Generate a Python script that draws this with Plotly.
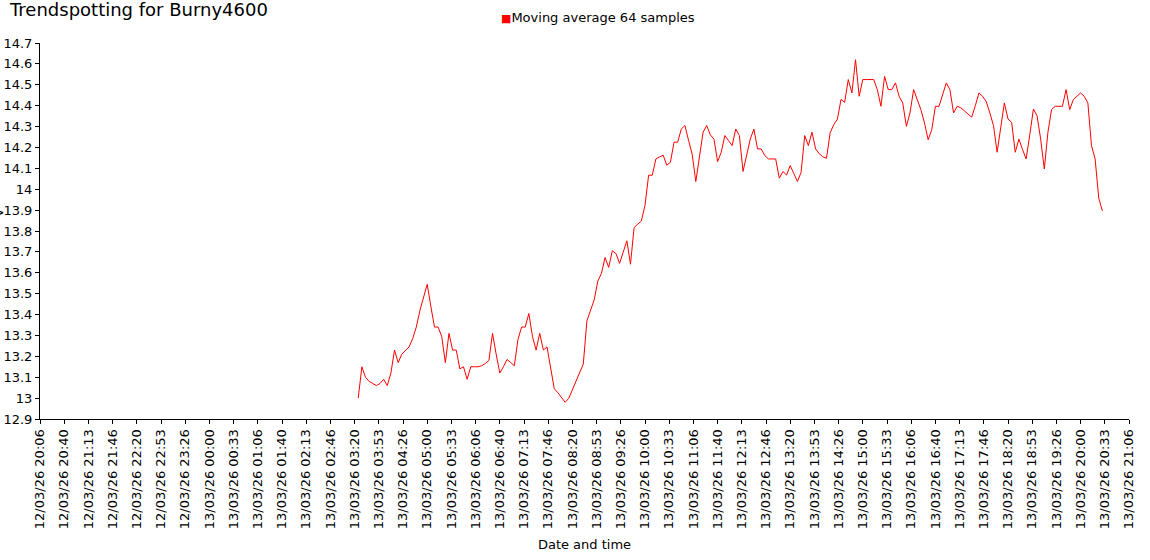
import pandas as pd
import plotly.graph_objects as go

# ---- data ----
title_text = "Trendspotting for Burny4600"
series_name = "Moving average 64 samples"
x_title = "Date and time"
y_title = "V"
start_time = "2026-03-13 03:25:00"
sample_minutes = 5
axis_start = "2026-03-12 20:06:40"
axis_end = "2026-03-13 21:06:40"
tick_step_ms = 2000 * 1000
y_min, y_max, y_step = 12.9, 14.7, 0.1

values = [
    13.00, 13.15, 13.10, 13.08, 13.07, 13.06, 13.07, 13.09, 13.06, 13.12,
    13.23, 13.17, 13.21, 13.23, 13.245, 13.285, 13.34, 13.42, 13.485, 13.545,
    13.44, 13.34, 13.34, 13.295, 13.17, 13.31, 13.23, 13.23, 13.14, 13.15,
    13.09, 13.15, 13.15, 13.15, 13.155, 13.165, 13.18, 13.31, 13.21, 13.12,
    13.15, 13.185, 13.17, 13.155, 13.28, 13.34, 13.34, 13.405, 13.295, 13.23,
    13.31, 13.23, 13.245, 13.15, 13.045, 13.026, 13.004, 12.98, 12.999, 13.04,
    13.08, 13.115, 13.163, 13.37, 13.42, 13.47, 13.56, 13.597, 13.673, 13.626,
    13.705, 13.692, 13.645, 13.70, 13.753, 13.641, 13.817, 13.833, 13.848, 13.923,
    14.067, 14.067, 14.145, 14.154, 14.163, 14.115, 14.129, 14.225, 14.225, 14.288,
    14.305, 14.234, 14.167, 14.037, 14.154, 14.273, 14.305, 14.26, 14.24, 14.132,
    14.177, 14.257, 14.233, 14.209, 14.288, 14.257, 14.085, 14.163, 14.24, 14.288,
    14.193, 14.193, 14.161, 14.145, 14.145, 14.145, 14.053, 14.085, 14.068, 14.113,
    14.075, 14.037, 14.081, 14.257, 14.209, 14.273, 14.193, 14.17, 14.155, 14.148,
    14.27, 14.309, 14.335, 14.43, 14.416, 14.525, 14.461, 14.62, 14.445, 14.525,
    14.525, 14.525, 14.525, 14.477, 14.397, 14.54, 14.477, 14.477, 14.509, 14.445,
    14.413, 14.301, 14.365, 14.477, 14.43, 14.381, 14.317, 14.237, 14.285, 14.397,
    14.397, 14.453, 14.509, 14.477, 14.365, 14.397, 14.39, 14.375, 14.36, 14.345,
    14.40, 14.461, 14.445, 14.42, 14.365, 14.305, 14.177, 14.305, 14.413, 14.336,
    14.32, 14.177, 14.24, 14.19, 14.145, 14.26, 14.384, 14.352, 14.24, 14.097,
    14.273, 14.381, 14.397, 14.397, 14.397, 14.477, 14.381, 14.429, 14.445, 14.461,
    14.445, 14.413, 14.209, 14.145, 13.957, 13.896,
]

times = pd.date_range(start=start_time, periods=len(values), freq=f"{sample_minutes}min")

FONT = "DejaVu Sans, Verdana, sans-serif"

fig = go.Figure()
fig.add_trace(go.Scatter(
    x=times, y=values, mode="lines", name=series_name,
    line=dict(color="#ff0000", width=1), showlegend=False,
))

fig.update_layout(
    width=1150, height=560,
    paper_bgcolor="white", plot_bgcolor="white",
    margin=dict(l=40, r=21, t=43, b=141, autoexpand=False),
    font=dict(family=FONT, size=13, color="#000000"),
    title=dict(text=title_text, x=10 / 1150, xanchor="left", xref="container",
               y=1 - 3 / 560, yanchor="top", yref="container",
               font=dict(family=FONT, size=18, color="#000000"), pad=dict(t=0, l=0)),
    showlegend=False,
)

fig.update_xaxes(
    type="date", range=[axis_start, axis_end],
    tick0=axis_start, dtick=tick_step_ms, tickformat="%d/%m/%y %H:%M",
    tickangle=-90, ticks="outside", ticklen=4, tickcolor="black",
    showline=True, linecolor="black", linewidth=1, showgrid=False, zeroline=False,
    tickfont=dict(family=FONT, size=13, color="#000000"),
    title=dict(text=x_title, font=dict(family=FONT, size=13, color="#000000"), standoff=11),
    automargin=False,
)
fig.update_yaxes(
    range=[y_min, y_max], tick0=y_min, dtick=y_step,
    ticks="outside", ticklen=4, tickcolor="black",
    showline=True, linecolor="black", linewidth=1, showgrid=False, zeroline=False,
    tickfont=dict(family=FONT, size=13, color="#000000"),
    automargin=False,
)

# legend-style key centred above the plot
fig.add_annotation(
    text=f"<span style='color:#ff0000;font-size:11px'>■</span>{series_name}",
    xref="paper", yref="paper", x=(598 - 40) / 1089, y=1 + (42.7 - 17) / 376.3,
    xanchor="center", yanchor="middle", showarrow=False,
    font=dict(family=FONT, size=13, color="#000000"),
)
# y-axis title, mostly cut off at the left edge as in the reference
fig.add_annotation(
    text=y_title, textangle=-90,
    xref="paper", yref="paper", x=(-2 - 40) / 1089, y=(419 - 213) / 376.3,
    xanchor="center", yanchor="middle", showarrow=False,
    font=dict(family=FONT, size=13, color="#000000"),
)

fig.write_html("out.html", config={"displayModeBar": False},
               post_script="document.body.style.margin='0';")
